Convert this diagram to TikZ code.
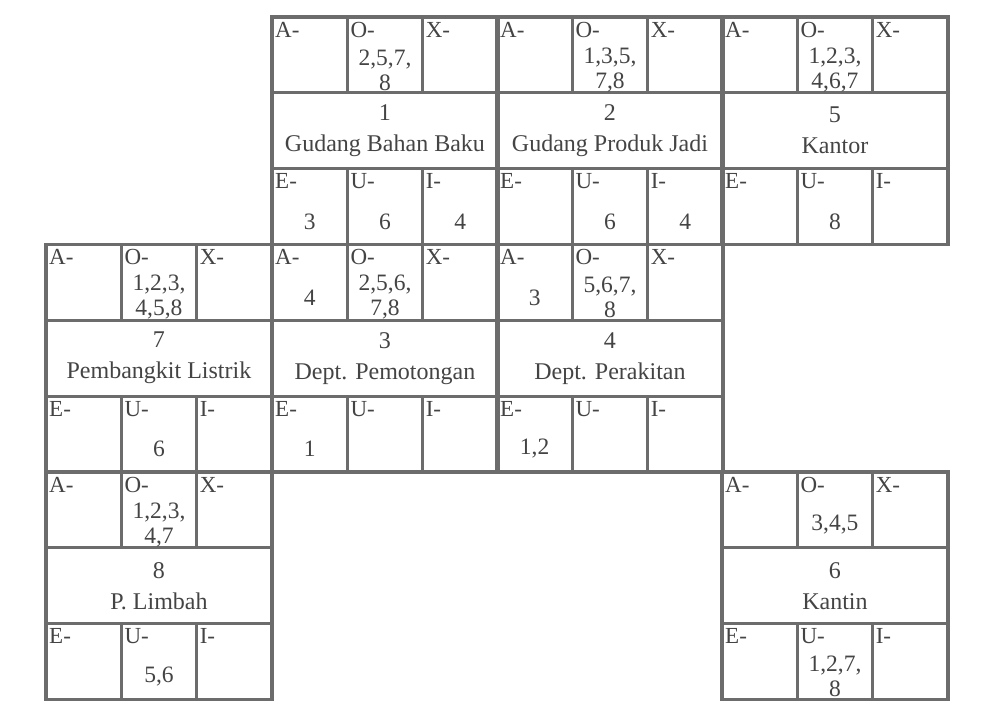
\documentclass[tikz,border=0pt]{standalone}
\usepackage{fontspec}
\setmainfont{Liberation Serif}
\usetikzlibrary{positioning}
\definecolor{rule}{HTML}{6C6C6C}
\definecolor{ink}{HTML}{444444}

\begin{document}
\begin{tikzpicture}[x=1pt,y=-1pt,
  cell/.style={draw=rule,line width=3.2pt,minimum width=75.3pt,minimum height=75.8pt,
    inner sep=0pt,outer sep=0pt},
  wide/.style={cell,minimum width=225.9pt,align=center,text=ink,font=\fontsize{24}{31}\selectfont},
  tag/.style={anchor=north west,inner xsep=3pt,inner ysep=5pt,text=ink,font=\fontsize{23}{23}\selectfont},
  val/.style={align=center,inner sep=0pt,text=ink,font=\fontsize{23.5}{25}\selectfont}]
  \fill[white] (0,0) rectangle (982,710);
  \useasboundingbox (0,0) rectangle (982,710);
  % one block per department: position, number, name, then A O X / E U I
  \foreach \bx/\by/\id/\dept/\va/\vo/\vx/\ve/\vu/\vi in {
      272/17/1/Gudang Bahan Baku/{}/{2,5,7,\\8}/{}/3/6/4,
      497/17/2/Gudang Produk Jadi/{}/{1,3,5,\\7,8}/{}/{}/6/4,
      722/17/5/Kantor/{}/{1,2,3,\\4,6,7}/{}/{}/8/{},
      46/244.5/7/Pembangkit Listrik/{}/{1,2,3,\\4,5,8}/{}/{}/6/{},
      272/244.5/3/Dept. Pemotongan/4/{2,5,6,\\7,8}/{}/1/{}/{},
      497/244.5/4/Dept. Perakitan/3/{5,6,7,\\8}/{}/{1,2}/{}/{},
      46/472/8/P. Limbah/{}/{1,2,3,\\4,7}/{}/{}/{5,6}/{},
      722/472/6/Kantin/{}/{3,4,5}/{}/{}/{1,2,7,\\8}/{}}{
    \node[cell,anchor=north west] (A\id) at (\bx,\by) {};
    \node[cell,right=0pt of A\id] (O\id) {};
    \node[cell,right=0pt of O\id] (X\id) {};
    \node[wide,anchor=north west] (M\id) at (A\id.south west) {\id\\\dept};
    \node[cell,anchor=north west] (E\id) at (M\id.south west) {};
    \node[cell,right=0pt of E\id] (U\id) {};
    \node[cell,right=0pt of U\id] (I\id) {};
    \foreach \tg in {A,O,X,E,U,I}
      \node[tag] (t\tg\id) at (\tg\id.north west) {\tg-};
    \node[val] (vA\id) at ([yshift=-15pt]A\id.center) {\va};
    \node[val] (vO\id) at ([yshift=-15pt]O\id.center) {\vo};
    \node[val] (vX\id) at ([yshift=-15pt]X\id.center) {\vx};
    \node[val] (vE\id) at ([yshift=-15pt]E\id.center) {\ve};
    \node[val] (vU\id) at ([yshift=-15pt]U\id.center) {\vu};
    \node[val] (vI\id) at ([yshift=-15pt]I\id.center) {\vi};
  }
\end{tikzpicture}
\end{document}
